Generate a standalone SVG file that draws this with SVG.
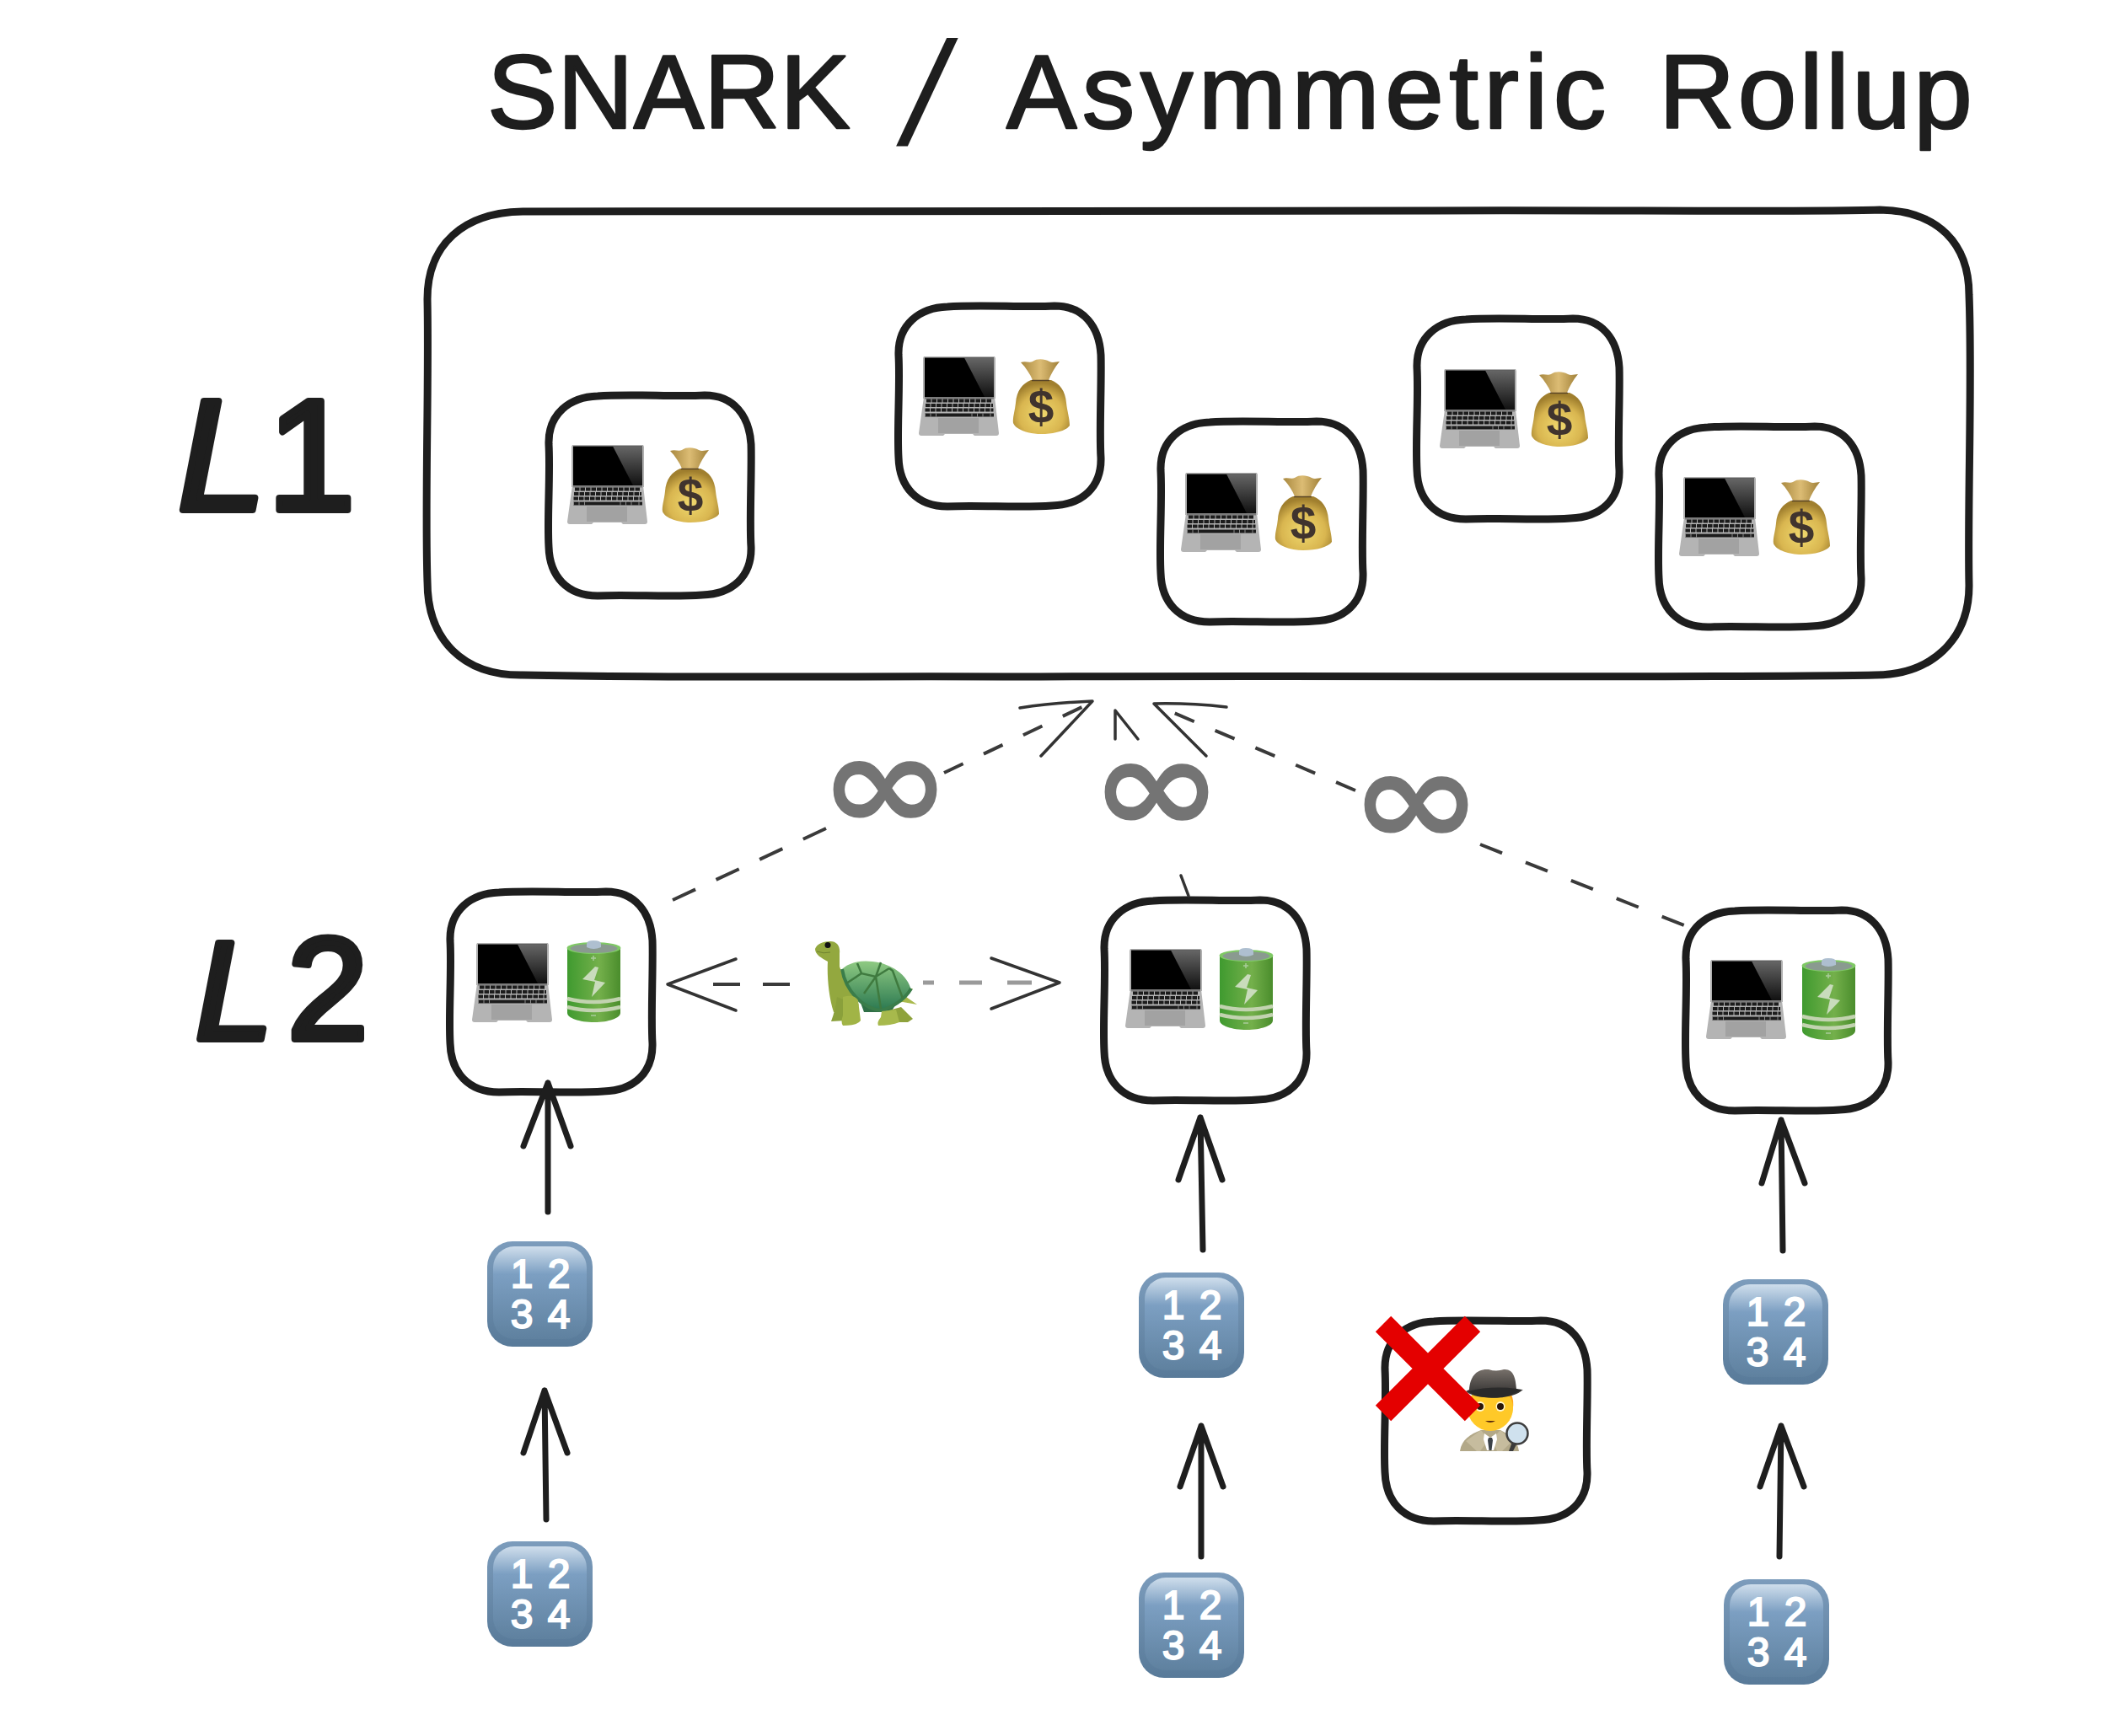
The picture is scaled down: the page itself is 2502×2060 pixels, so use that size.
<svg xmlns="http://www.w3.org/2000/svg" xmlns:xlink="http://www.w3.org/1999/xlink" width="2502" height="2060" viewBox="0 0 2502 2060">
<style>
.title{font-family:"Liberation Sans",Arial,sans-serif;font-size:125px;fill:#1e1e1e;stroke:#1e1e1e;stroke-width:2.500;stroke-linejoin:round}
.lvl{font-family:"Liberation Sans",Arial,sans-serif;fill:#1e1e1e;stroke:#1e1e1e;stroke-width:8;stroke-linejoin:round}
.sk{fill:none;stroke:#1e1e1e;stroke-width:9;stroke-linejoin:round}
.arrow{fill:none;stroke:#1e1e1e;stroke-width:7;stroke-linecap:round;stroke-linejoin:round}
.dash{fill:none;stroke:#3a3a3a;stroke-width:4;stroke-dasharray:25 27}
.dashg{fill:none;stroke:#9a9a9a;stroke-width:5}
.head{fill:none;stroke:#333;stroke-width:3.500;stroke-linecap:round;stroke-linejoin:round}
.inf{font-family:"DejaVu Sans",sans-serif;font-weight:700;fill:#747474;text-anchor:middle;font-size:150px}
.usd{font-family:"Liberation Sans",Arial,sans-serif;font-weight:700;font-size:55px;fill:#40342e;text-anchor:middle}
.key{font-family:"Liberation Sans",Arial,sans-serif;font-size:48px;fill:#fff;stroke:#fff;stroke-width:2;text-anchor:middle;letter-spacing:2px}
</style>
<defs>
<path id="box" class="sk" d="M58 1C95 -2 150 2 185 0C220 0 238 25 240 58C241 90 238 150 240 180C241 215 218 236 182 237C145 240 95 236 58 238C22 238 1 215 0 180C-2 145 2 95 0 58C-1 22 25 2 58 1Z"/>
<linearGradient id="gl" x1="0" y1="0" x2="0" y2="1"><stop offset="0" stop-color="#666"/><stop offset="1" stop-color="#111"/></linearGradient>
<radialGradient id="gb" cx=".5" cy=".65" r=".6"><stop offset="0" stop-color="#f0d96e"/><stop offset=".65" stop-color="#d9b650"/><stop offset="1" stop-color="#a07f2e"/></radialGradient>
<linearGradient id="gf" x1="0" y1="0" x2="1" y2="0"><stop offset="0" stop-color="#a8883f"/><stop offset=".5" stop-color="#dcbc74"/><stop offset="1" stop-color="#a08038"/></linearGradient>
<linearGradient id="gc" x1="0" y1="0" x2="1" y2="0"><stop offset="0" stop-color="#3f9a2f"/><stop offset=".6" stop-color="#74b04b"/><stop offset="1" stop-color="#4a8d2c"/></linearGradient>
<linearGradient id="gk" x1="0" y1="0" x2="0" y2="1"><stop offset="0" stop-color="#7c9cbc"/><stop offset="1" stop-color="#587a99"/></linearGradient>
<linearGradient id="gh" x1="0" y1="0" x2="0" y2="1"><stop offset="0" stop-color="#cfdeec"/><stop offset=".3" stop-color="#7c9fc2"/><stop offset="1" stop-color="#5f819f"/></linearGradient>
<linearGradient id="gs" x1="0" y1="0" x2="0" y2="1"><stop offset="0" stop-color="#8fca82"/><stop offset="1" stop-color="#2d7a52"/></linearGradient>
<linearGradient id="ghat" x1="0" y1="0" x2="0" y2="1"><stop offset="0" stop-color="#77706a"/><stop offset="1" stop-color="#2b2a2a"/></linearGradient>

<g id="laptop">
<path d="M6 0H90L91 2V50H5V2Z" fill="#b0b0b0"/>
<rect x="7" y="1.500" width="82" height="47" fill="#000"/>
<path d="M54 1.500H89V48H78Z" fill="url(#gl)"/>
<path d="M6 48H90L95 91Q95 94 92 94H66L64 92H31L29 94H3Q0 94 0 91Z" fill="#b4b4b4"/>
<rect x="7" y="48" width="82" height="2.500" fill="#7c7c7c"/>
<g fill="none" stroke="#1c1c1c" stroke-width="4.200">
<path d="M9 52.500H87" stroke-dasharray="5.500 1"/>
<path d="M8 58H88" stroke-dasharray="5.500 1"/>
<path d="M7.500 63.500H88.500" stroke-dasharray="5.500 1"/>
<path d="M7 69.500H89"/>
</g>
<path d="M7 69.500H89" stroke="#8c8c8c" stroke-width="4.400" stroke-dasharray="1 5.500 1 5.500 1 5.500 0 36 1 5.500 1 5.500 1 8"/>
<path d="M23 73H71V91H23Z" fill="#a2a2a2"/>
</g>

<g id="bag">
<path d="M22 25C12 29 5 38 4 52C3 62 0 70 1 76C4 84 20 89 34 89C50 89 64 85 68 79C68 70 65 62 64 52C63 38 56 29 46 25Z" fill="url(#gb)"/>
<path d="M10 4C16 2 20 5 24 3C30 -1 38 0 44 3C48 5 52 3 56 3C50 10 46 18 43 25H24C21 18 16 10 10 4Z" fill="url(#gf)"/>
<path d="M23 25.500H44" stroke="#5a4526" stroke-width="1.500"/>
</g>

<g id="battery">
<path d="M1 9V86C1 92 15 97 33 97C50 97 64 92 64 86V9Z" fill="url(#gc)"/>
<ellipse cx="32.500" cy="9" rx="32" ry="7" fill="#7fc965"/>
<ellipse cx="32.500" cy="9.500" rx="28" ry="5.500" fill="#8a9a90"/>
<path d="M24 4Q24 0 32 0Q41 0 41 4V8Q32 12 24 8Z" fill="#aebfd0"/>
<path d="M34 31L19 46L34 49L30 67L46 50L33 47L38 32Z" fill="#c9dcbc"/>
<path d="M1 69Q32 77 64 69M1 79Q32 87 64 79" fill="none" stroke="#c2d3b0" stroke-width="4.500"/>
<path d="M29 21H35M32 18V24M29 89H35" stroke="#a9cc9a" stroke-width="1.500"/>
</g>

<g id="keytile">
<rect width="125" height="125" rx="30" fill="url(#gk)"/>
<rect x="7" y="6" width="111" height="110" rx="25" fill="url(#gh)"/>
</g>

<g id="turtle">
<path d="M64 71C75 72 92 74 104 72L121 75L108 66L116 56L64 60Z" fill="#a9b94c"/>
<path d="M0 9C2 3 10 0 18 0C26 0 30 6 29 14L29 30C32 40 44 60 52 76L30 84L22 84C16 66 14 40 15 24C8 20 0 16 0 9Z" fill="#93a83f"/>
<circle cx="15" cy="4.500" r="3.500" fill="#111"/>
<path d="M2 12Q10 15 18 13" fill="none" stroke="#6f8230" stroke-width="1"/>
<path d="M50 62L95 76L90 84H58Z" fill="#2f6f46"/>
<path d="M32 33C40 25 55 22 68 24C90 26 110 40 114 58C100 72 85 80 78 81C60 80 40 70 32 33Z" fill="url(#gs)"/>
<path d="M32 33C36 58 56 80 78 82C90 79 106 70 114 56" fill="none" stroke="#3a7d4a" stroke-width="4"/>
<path d="M37 50L55 38L72 42L88 32M55 38L50 26M72 42L78 25M72 42L58 62M88 32L92 35L104 68M72 42L78 80" fill="none" stroke="#3f7a3f" stroke-width="2.500"/>
<path d="M26 66L36 70L36 94L19 95Q24 82 26 66Z" fill="#8aa03b"/>
<path d="M33 66Q46 62 51 70L54 94Q50 100 33 100Q30 96 33 88Z" fill="#a1b446"/>
<path d="M80 84L102 78L116 92L110 96L96 96Z" fill="#8ea23c"/>
<path d="M79 83L96 81L100 96Q90 100 75 100Q73 96 78 90Z" fill="#a7b94c"/>
</g>

<g id="detective">
<path d="M0 98C2 84 12 78 25 73H48C58 78 68 84 70 98Z" fill="#b2a888"/>
<path d="M25 73L34 84L24 98H20L7 86ZM48 73L38 84L44 98H50L62 86Z" fill="#c6bc9e"/>
<path d="M29 77L36 82L43 77L44 84L40 97H32L28 84Z" fill="#fff"/>
<path d="M34 82H38L39 85L37.500 97H34.500L33 85Z" fill="#3b4148"/>
<path d="M58 26C66 36 64 50 58 62L48 56Z" fill="#ffa61c"/>
<circle cx="36" cy="47" r="27" fill="#ffc928"/>
<ellipse cx="24" cy="45" rx="5.500" ry="6" fill="#fff7d0"/><circle cx="24" cy="45" r="4" fill="#2a1608"/>
<ellipse cx="48" cy="45" rx="5.500" ry="6" fill="#fff7d0"/><circle cx="48" cy="45" r="4" fill="#2a1608"/>
<path d="M30 62Q36 66 42 62Z" fill="#5a2a0d"/>
<path d="M11 25C12 10 19 0 34 1C40 3 46 3 52 1C64 0 66 12 67 24C70 26 73 25 75 25C65 34 45 36 28 34C18 33 10 30 7 27Z" fill="url(#ghat)"/>
<path d="M9 27Q38 20 67 24L74 25Q50 38 22 33Z" fill="#2a2a2a"/>
<path d="M63 84L58 98H63L69 86Z" fill="#3a3a3a"/>
<circle cx="68" cy="77" r="12.500" fill="#cfe1ee" stroke="#3d3d3d" stroke-width="2.500"/>
</g>
</defs>

<rect width="2502" height="2060" fill="#fff"/>

<text id="title" class="title"><tspan x="578" y="152">SNARK</tspan><tspan x="1073" y="172" font-size="175" font-style="italic" stroke-width="0">/</tspan><tspan x="1194" y="152" letter-spacing="6.500">Asymmetric</tspan><tspan x="1968" y="152" letter-spacing="3.500">Rollup</tspan></text>
<text id="label-l1" class="lvl" y="605" font-size="188"><tspan x="211" font-style="italic">L</tspan><tspan x="317">1</tspan></text>
<text id="label-l2" class="lvl" y="1233" font-size="165"><tspan x="232" font-style="italic">L</tspan><tspan x="341" font-size="172">2</tspan></text>

<g id="l1-chain"><path class="sk" d="M620 251C900 248 1300 252 1700 250C1900 249 2120 252 2230 249C2300 250 2336 290 2336 350C2340 450 2334 600 2336 695C2336 760 2290 801 2225 801C2000 805 1600 801 1200 803C1000 802 800 805 620 801C550 802 507 760 507 690C504 600 509 450 507 355C507 290 550 252 620 251Z"/></g>

<g id="l1-node-1"><use href="#box" x="651" y="469"/><use href="#laptop" x="673" y="528"/><use href="#bag" x="785" y="531"/><text class="usd" x="819" y="607">$</text></g>
<g id="l1-node-2"><use href="#box" x="1066" y="363"/><use href="#laptop" x="1090" y="423"/><use href="#bag" x="1201" y="426"/><text class="usd" x="1235" y="502">$</text></g>
<g id="l1-node-3"><use href="#box" x="1377" y="500"/><use href="#laptop" x="1401" y="561"/><use href="#bag" x="1512" y="564"/><text class="usd" x="1546" y="640">$</text></g>
<g id="l1-node-4"><use href="#box" x="1681" y="378"/><use href="#laptop" x="1708" y="438"/><use href="#bag" x="1816" y="441"/><text class="usd" x="1850" y="517">$</text></g>
<g id="l1-node-5"><use href="#box" x="1968" y="506"/><use href="#laptop" x="1992" y="566"/><use href="#bag" x="2103" y="569"/><text class="usd" x="2137" y="645">$</text></g>

<g id="l2-node-1"><use href="#box" x="534" y="1058"/><use href="#laptop" x="560" y="1119"/><use href="#battery" x="672" y="1116"/></g>
<g id="l2-node-2"><use href="#box" x="1310" y="1068"/><use href="#laptop" x="1335" y="1126"/><use href="#battery" x="1446" y="1125"/></g>
<g id="l2-node-3"><use href="#box" x="2000" y="1080"/><use href="#laptop" x="2024" y="1139"/><use href="#battery" x="2137" y="1137"/></g>

<g id="detective-node"><use href="#box" x="1643" y="1567"/><use href="#detective" x="1732" y="1624"/>
<path d="M1641 1571L1747 1677M1747 1571L1641 1677" fill="none" stroke="#e40000" stroke-width="26"/></g>

<g id="tx-1"><use href="#keytile" x="578" y="1473"/><text class="key" x="642" y="1528">1 2</text><text class="key" x="642" y="1576">3 4</text></g>
<g id="tx-2"><use href="#keytile" x="578" y="1829"/><text class="key" x="642" y="1884">1 2</text><text class="key" x="642" y="1932">3 4</text></g>
<g id="tx-3"><use href="#keytile" x="1351" y="1510"/><text class="key" x="1415" y="1565">1 2</text><text class="key" x="1415" y="1613">3 4</text></g>
<g id="tx-4"><use href="#keytile" x="1351" y="1866"/><text class="key" x="1415" y="1921">1 2</text><text class="key" x="1415" y="1969">3 4</text></g>
<g id="tx-5"><use href="#keytile" x="2044" y="1518"/><text class="key" x="2108" y="1573">1 2</text><text class="key" x="2108" y="1621">3 4</text></g>
<g id="tx-6"><use href="#keytile" x="2045" y="1874"/><text class="key" x="2109" y="1929">1 2</text><text class="key" x="2109" y="1977">3 4</text></g>

<g id="turtle-icon"><use href="#turtle" x="967" y="1117"/></g>
<g id="inf-1"><text class="inf" transform="translate(1050 985) scale(1.26 1.08)">∞</text></g>
<g id="inf-2"><text class="inf" transform="translate(1372 988) scale(1.26 1.08)">∞</text></g>
<g id="inf-3"><text class="inf" transform="translate(1680 1003) scale(1.26 1.08)">∞</text></g>

<g id="connectors">
<path class="arrow" d="M650 1438V1285M621 1360L650 1285L677 1360"/>
<path class="arrow" d="M648 1803L646 1650M621 1724L646 1650L673 1724"/>
<path class="arrow" d="M1427 1483L1424 1326M1398 1400L1424 1326L1450 1400"/>
<path class="arrow" d="M1425 1847V1692M1400 1764L1425 1692L1451 1764"/>
<path class="arrow" d="M2115 1484L2113 1329M2090 1404L2113 1329L2141 1404"/>
<path class="arrow" d="M2111 1847L2113 1692M2088 1764L2113 1692L2140 1764"/>

<path class="dash" d="M980 983L798 1068" style="stroke-dasharray:30 27"/>
<path class="dash" d="M1120 917L1292 835"/>
<path class="head" d="M1210 840Q1250 834 1296 832L1235 897"/>
<path class="dash" d="M1756 1002L1998 1098" style="stroke-dasharray:28 30"/>
<path class="dash" d="M1608 938L1374 838"/>
<path class="head" d="M1455 839Q1410 834 1369 835L1431 897"/>
<path class="head" d="M1323 877V843L1350 877"/>
<path class="head" d="M1401 1039L1410 1063"/>
<path class="head" d="M873 1138L792 1168L873 1199"/>
<path class="dash" d="M846 1168H940" style="stroke-dasharray:32 27"/>
<path class="dashg" d="M1095 1166H1108M1138 1166H1165M1195 1166H1224"/>
<path class="head" d="M1176 1137L1257 1166L1176 1197"/>
</g>
</svg>
